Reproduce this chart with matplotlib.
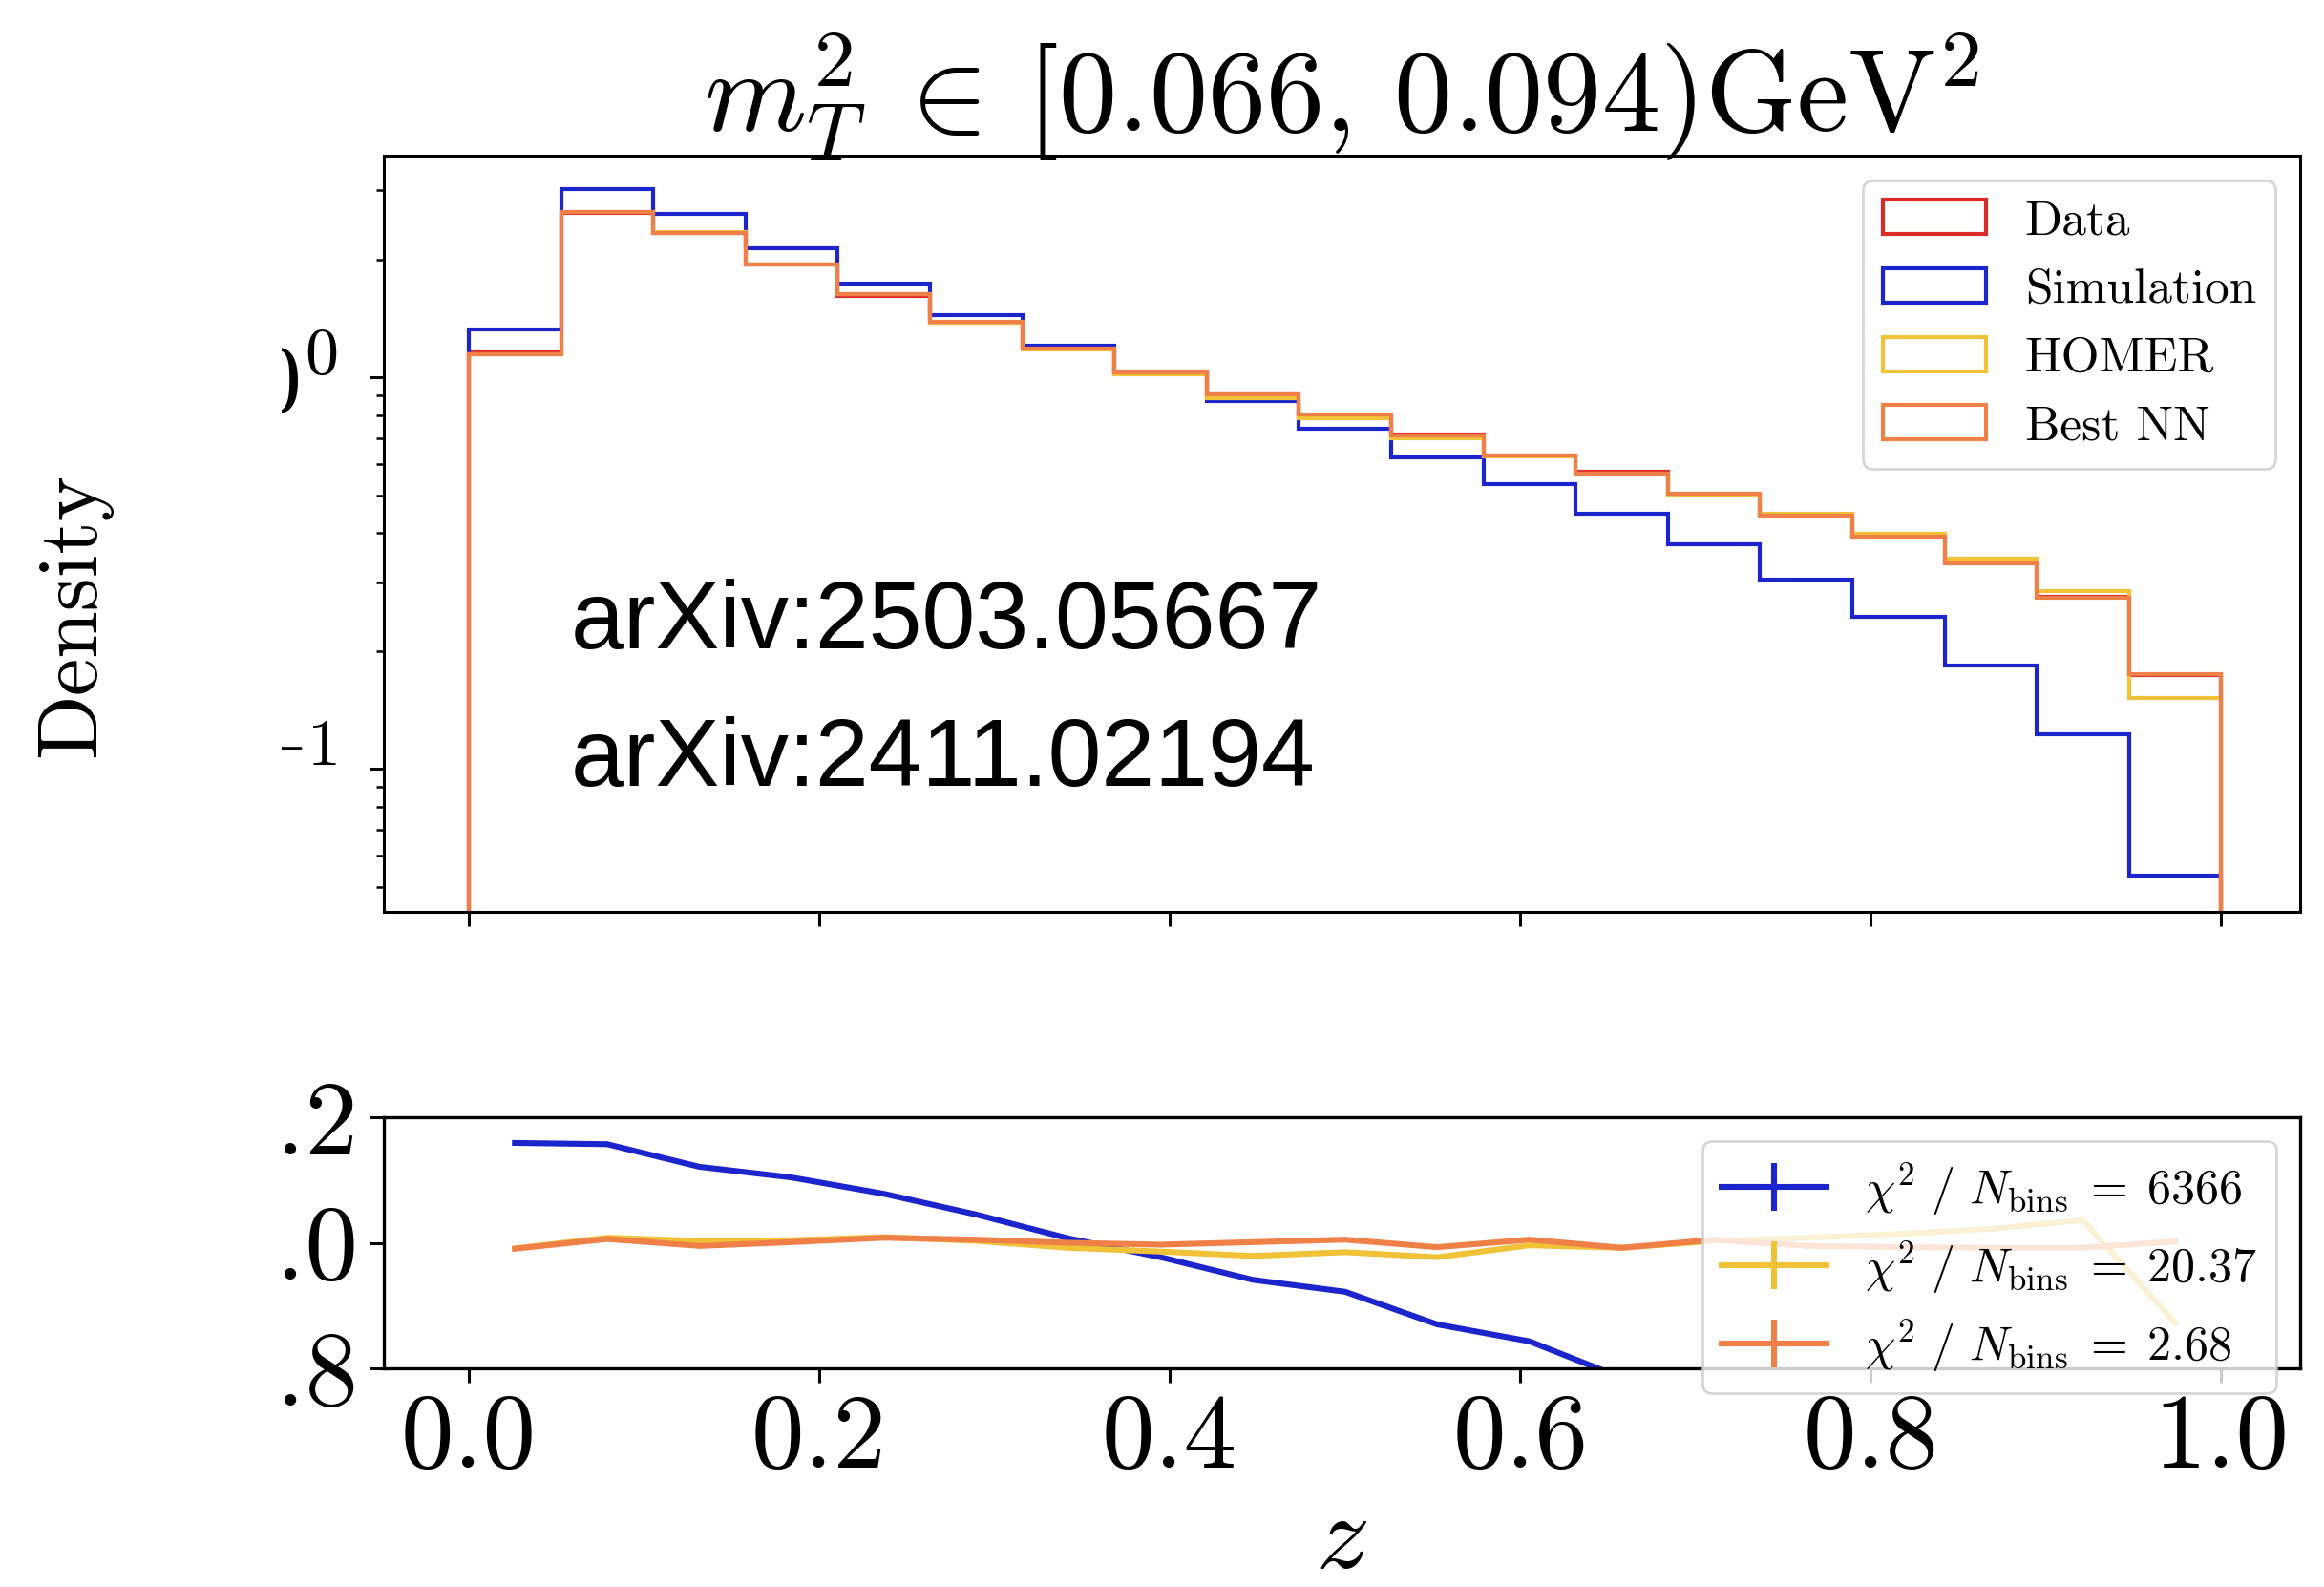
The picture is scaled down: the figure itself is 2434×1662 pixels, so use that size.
import matplotlib
matplotlib.use("Agg")
import matplotlib.pyplot as plt
from matplotlib.transforms import Bbox, IdentityTransform, TransformedBbox
from matplotlib.ticker import FixedLocator, NullFormatter, LogLocator
import numpy as np

plt.rcParams["font.family"] = "serif"
plt.rcParams["font.serif"] = ["cmr10"]
plt.rcParams["mathtext.fontset"] = "cm"
plt.rcParams["axes.formatter.use_mathtext"] = True

# bin edges in z (19 bins)
z_edges = [0.0, 0.0526, 0.1053, 0.1579, 0.2105, 0.2632, 0.3158, 0.3684, 0.4211, 0.4737,
           0.5263, 0.5789, 0.6316, 0.6842, 0.7368, 0.7895, 0.8421, 0.8947, 0.9474, 1.0]

# densities per bin
data = [1.157, 2.624, 2.342, 1.938, 1.617, 1.378, 1.186, 1.034, 0.905, 0.799,
        0.715, 0.630, 0.573, 0.501, 0.445, 0.394, 0.337, 0.276, 0.174]
simulation = [1.327, 3.018, 2.62, 2.13, 1.737, 1.441, 1.204, 1.03, 0.868, 0.741,
              0.624, 0.533, 0.449, 0.375, 0.305, 0.2446, 0.1837, 0.1226, 0.0534]
homer = [1.147, 2.645, 2.349, 1.946, 1.632, 1.382, 1.176, 1.020, 0.886, 0.787,
         0.699, 0.627, 0.568, 0.503, 0.449, 0.399, 0.344, 0.284, 0.152]
best_nn = [1.146, 2.64, 2.33, 1.94, 1.63, 1.385, 1.186, 1.031, 0.906, 0.803,
           0.710, 0.633, 0.568, 0.504, 0.443, 0.391, 0.3345, 0.2735, 0.1744]

# ratios to data (lower panel)
ratio_sim = [1.159, 1.157, 1.121, 1.104, 1.078, 1.045, 1.007, 0.977, 0.941, 0.922,
             0.870, 0.843, 0.785, 0.744, 0.69, 0.626, 0.55, 0.45, 0.31]
ratio_homer = [0.991, 1.008, 1.003, 1.004, 1.009, 1.003, 0.992, 0.986, 0.979, 0.985,
               0.977, 0.996, 0.992, 1.003, 1.008, 1.014, 1.022, 1.036, 0.872]
ratio_nn = [0.9906, 1.006, 0.995, 1.001, 1.008, 1.005, 1.000, 0.997, 1.001, 1.005,
            0.993, 1.005, 0.992, 1.005, 0.995, 0.993, 0.992, 0.992, 1.002]
ratio_err = [0.0] * 19

chi2_labels = ["6366", "20.37", "2.68"]

c_data = "#dc2a2a"
c_sim = "#1c24cc"
c_homer = "#f0c238"
c_nn = "#ee8048"

W, H = 2434, 1662
fig = plt.figure(figsize=(W / 200, H / 200), dpi=200)

ax = fig.add_axes([402 / W, 1 - 955 / H, 2007 / W, 792 / H])
ax_r = fig.add_axes([402 / W, 1 - 1433 / H, 2007 / W, 263 / H])

edges = np.array(z_edges)
centers = (edges[:-1] + edges[1:]) / 2

lw = 1.5
ax.hist(edges[:-1], bins=edges, weights=data, histtype="step", color=c_data, lw=lw, label="Data", log=True)
ax.hist(edges[:-1], bins=edges, weights=simulation, histtype="step", color=c_sim, lw=lw, label="Simulation", log=True)
ax.hist(edges[:-1], bins=edges, weights=homer, histtype="step", color=c_homer, lw=lw, label="HOMER", log=True)
ax.hist(edges[:-1], bins=edges, weights=best_nn, histtype="step", color=c_nn, lw=lw, label="Best NN", log=True)

ax.set_xlim(-0.0485, 1.045)
ax.set_ylim(0.0432, 3.68)
ax.xaxis.set_major_locator(FixedLocator([0, 0.2, 0.4, 0.6, 0.8, 1.0]))
ax.set_xticklabels([])
ax.yaxis.set_major_locator(FixedLocator([0.1, 1.0]))
ax.yaxis.set_minor_locator(LogLocator(subs=np.arange(2, 10)))
ax.yaxis.set_minor_formatter(NullFormatter())
ax.tick_params(which="major", length=5.5, width=1.1, labelsize=36, pad=12)
ax.tick_params(which="minor", length=3, width=0.9)
for s in ax.spines.values():
    s.set_linewidth(1.1)
ax.legend(loc="upper right", fontsize=18.5, handlelength=2.1)

lw_r = 2.2
for ratio, col, chi in [(ratio_sim, c_sim, chi2_labels[0]),
                        (ratio_homer, c_homer, chi2_labels[1]),
                        (ratio_nn, c_nn, chi2_labels[2])]:
    ax_r.errorbar(centers, ratio, yerr=ratio_err, color=col, lw=lw_r,
                  label=r"$\chi^2\ /\ N_{\mathrm{bins}}\;=\;%s$" % chi)
ax_r.set_xlim(-0.0485, 1.045)
ax_r.set_ylim(0.8, 1.2)
ax_r.xaxis.set_major_locator(FixedLocator([0, 0.2, 0.4, 0.6, 0.8, 1.0]))
ax_r.yaxis.set_major_locator(FixedLocator([0.8, 1.0, 1.2]))
ax_r.set_yticklabels(["0.8", "1.0", "1.2"])
ax_r.set_xticklabels(["0.0", "0.2", "0.4", "0.6", "0.8", "1.0"])
ax_r.tick_params(which="major", length=5.5, width=1.1, labelsize=40, pad=4)
for s in ax_r.spines.values():
    s.set_linewidth(1.2)
ax_r.legend(loc="upper right", fontsize=18, handlelength=2.2, labelspacing=0.45)

# the screenshot is cut on the left of the tick labels
clip = TransformedBbox(Bbox([[295, 0], [W, H]]), IdentityTransform())
for lab in ax.get_yticklabels() + ax_r.get_yticklabels():
    lab.set_clip_on(True)
    lab.set_clip_box(clip)

fig.text(1405 / W, 1 - 138 / H, r"$m_T^2\;\in\,[0.066,\,0.094)\mathrm{GeV}^2$",
         fontsize=44, ha="center", va="baseline")
fig.text(78 / W, 1 - 644 / H, "Density", fontsize=32, rotation=90, ha="center", va="center")
fig.text(1405 / W, 1 - 1642 / H, r"$z$", fontsize=40, ha="center", va="baseline")

fig.text(598 / W, 1 - 679 / H, "arXiv:2503.05667", family="Liberation Sans", fontsize=36.2, va="baseline")
fig.text(598 / W, 1 - 823 / H, "arXiv:2411.02194", family="Liberation Sans", fontsize=36.2, va="baseline")

fig.savefig("out.png", dpi=200)
